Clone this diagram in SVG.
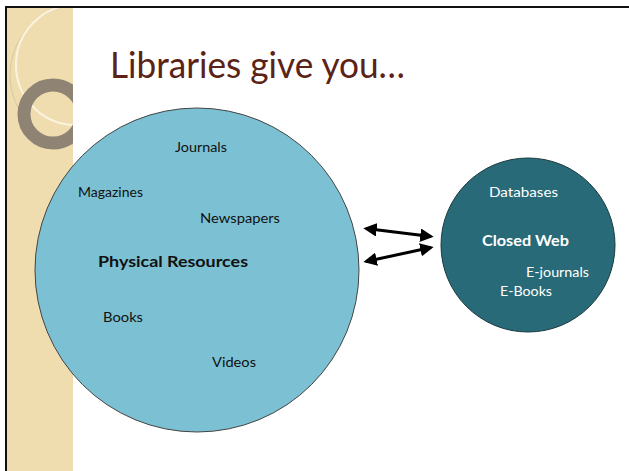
<svg xmlns="http://www.w3.org/2000/svg" width="629" height="471" viewBox="0 0 629 471">
<defs>
<style>
.lbl{font-family:Lato,"Open Sans","Liberation Sans",sans-serif;font-size:13.5px;fill:#111}
.lblw{font-family:Lato,"Open Sans","Liberation Sans",sans-serif;font-size:13.5px;fill:#fff}
.b{font-weight:bold;font-size:14.5px}
.title{font-family:Lato,"Open Sans","Liberation Sans",sans-serif;font-size:36px;fill:#5b2316}
.arr{stroke:#000;stroke-width:3;fill:none;marker-start:url(#ah);marker-end:url(#ah)}
</style>
<marker id="ah" viewBox="0 0 10 10" refX="8" refY="5" markerWidth="4.5" markerHeight="4.5" orient="auto-start-reverse" markerUnits="strokeWidth">
<path d="M0,0 L10,5 L0,10 z" fill="#000"/>
</marker>
<clipPath id="stripe"><rect x="7" y="8" width="66" height="463"/></clipPath>
</defs>
<rect width="629" height="471" fill="#fff"/>
<g id="background">
<rect x="7" y="8" width="66" height="463" fill="#efddb0"/>
<g clip-path="url(#stripe)">
<circle cx="80" cy="75" r="70" fill="none" stroke="#d8c9a4" stroke-width="1"/>
<circle cx="76" cy="65" r="60" fill="none" stroke="#fbf3de" stroke-width="2"/>
<circle cx="53" cy="114" r="29" fill="none" stroke="#8f8474" stroke-width="13"/>
</g>
<line x1="5" y1="7" x2="629" y2="7" stroke="#111" stroke-width="2"/>
<line x1="6" y1="6" x2="6" y2="471" stroke="#111" stroke-width="2"/>
</g>
<text id="title" class="title" x="110" y="78" textLength="295" lengthAdjust="spacingAndGlyphs">Libraries give you…</text>
<g id="physical">
<circle cx="197" cy="270" r="162" fill="#7cc1d3" stroke="#444" stroke-width="1"/>
<text class="lbl" x="175" y="152" textLength="52" lengthAdjust="spacingAndGlyphs">Journals</text>
<text class="lbl" x="78" y="197" textLength="65" lengthAdjust="spacingAndGlyphs">Magazines</text>
<text class="lbl" x="200" y="223" textLength="80" lengthAdjust="spacingAndGlyphs">Newspapers</text>
<text class="lbl b" x="98" y="267" textLength="150" lengthAdjust="spacingAndGlyphs">Physical Resources</text>
<text class="lbl" x="103" y="322" textLength="40" lengthAdjust="spacingAndGlyphs">Books</text>
<text class="lbl" x="212" y="367" textLength="44" lengthAdjust="spacingAndGlyphs">Videos</text>
</g>
<g id="closedweb">
<circle cx="528" cy="245" r="87" fill="#286a77" stroke="#1a3a40" stroke-width="1"/>
<text class="lblw" x="489" y="197" textLength="69" lengthAdjust="spacingAndGlyphs">Databases</text>
<text class="lblw b" x="482" y="246" textLength="87" lengthAdjust="spacingAndGlyphs">Closed Web</text>
<text class="lblw" x="526" y="277" textLength="63" lengthAdjust="spacingAndGlyphs">E-journals</text>
<text class="lblw" x="500" y="296" textLength="52" lengthAdjust="spacingAndGlyphs">E-Books</text>
</g>
<g id="connectors">
<line class="arr" x1="366" y1="228.5" x2="431" y2="236.5"/>
<line class="arr" x1="366" y1="261.5" x2="431" y2="247.5"/>
</g>
</svg>
